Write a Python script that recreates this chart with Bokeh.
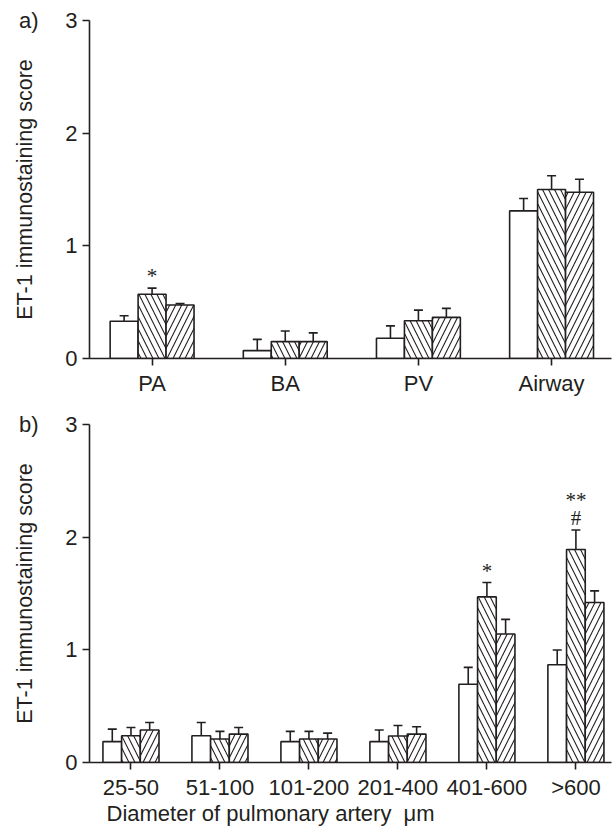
from bokeh.plotting import figure
from bokeh.models import (Range1d, FixedTicker, Whisker, TeeHead,
                          ColumnDataSource, Title, LinearAxis)
from bokeh.layouts import column
from bokeh.core.properties import value
from bokeh.embed import file_html
from bokeh.resources import INLINE

# ---------------- data ----------------
cats_a = ["PA", "BA", "PV", "Airway"]
a_grp1 = [0.33, 0.07, 0.18, 1.31]
a_grp1_err = [0.05, 0.10, 0.11, 0.11]
a_grp2 = [0.57, 0.15, 0.335, 1.50]
a_grp2_err = [0.055, 0.094, 0.094, 0.122]
a_grp3 = [0.475, 0.15, 0.365, 1.476]
a_grp3_err = [0.012, 0.077, 0.08, 0.115]
a_annot_cat = ["PA"]
a_annot_text = ["*"]

cats_b = ["25-50", "51-100", "101-200", "201-400", "401-600", ">600"]
b_grp1 = [0.185, 0.238, 0.185, 0.185, 0.694, 0.868]
b_grp1_err = [0.111, 0.117, 0.091, 0.103, 0.15, 0.13]
b_grp2 = [0.238, 0.208, 0.208, 0.235, 1.47, 1.89]
b_grp2_err = [0.073, 0.068, 0.068, 0.094, 0.127, 0.174]
b_grp3 = [0.288, 0.252, 0.208, 0.252, 1.14, 1.42]
b_grp3_err = [0.067, 0.059, 0.053, 0.065, 0.13, 0.103]
b_annot_cat = ["401-600", ">600", ">600"]
b_annot_text = ["*", "#", "**"]

y_ticks = [0, 1, 2, 3]
y_label = "ET-1 immunostaining score"
x_label_b = "Diameter of pulmonary artery\u00a0\u00a0\u03bcm"

FONT = "Liberation Sans"
SERIF = "Liberation Serif"
INK = "#231f20"
BW = 0.21


def style_axis(ax_):
    ax_.axis_line_color = INK
    ax_.axis_line_width = 1.6
    ax_.major_tick_line_color = INK
    ax_.major_tick_line_width = 1.6
    ax_.major_tick_out = 7
    ax_.major_tick_in = 0
    ax_.minor_tick_out = 0
    ax_.minor_tick_in = 0
    ax_.major_label_text_font = FONT
    ax_.major_label_text_font_size = "22px"
    ax_.major_label_text_color = INK
    ax_.axis_label_text_font = FONT
    ax_.axis_label_text_font_style = "normal"
    ax_.axis_label_text_color = INK


def make_panel(cats, g1, e1, g2, e2, g3, e3, ann_cat, ann_text, tag, height,
               bottom, left_pad, right_pad):
    n = len(cats)
    p = figure(width=612, height=height,
               x_range=Range1d(-left_pad, n - 1 + right_pad),
               y_range=Range1d(0, 3),
               output_backend="svg", toolbar_location=None,
               min_border_left=89, min_border_right=1,
               min_border_top=20, min_border_bottom=bottom)
    p.outline_line_color = None
    p.xgrid.visible = False
    p.ygrid.visible = False
    p.background_fill_color = "white"
    p.border_fill_color = "white"

    xs = list(range(n))
    groups = [(g1, e1, None, -BW), (g2, e2, "\\", 0.0), (g3, e3, "/", BW)]
    for vals, errs, hatch, off in groups:
        src = ColumnDataSource(dict(
            x=[x + off for x in xs],
            top=vals,
            up=[v + e for v, e in zip(vals, errs)],
        ))
        kw = dict(x="x", top="top", bottom=0, width=BW, source=src,
                  fill_color="white", line_color=INK, line_width=1.6)
        if hatch:
            kw.update(hatch_pattern=hatch, hatch_color=INK, hatch_weight=1.1,
                      hatch_scale=12)
        p.vbar(**kw)
        w = Whisker(base="x", lower="top", upper="up", source=src,
                    dimension="height", line_color=INK, line_width=1.6,
                    upper_head=TeeHead(size=9, line_color=INK, line_width=1.6),
                    lower_head=None)
        p.add_layout(w)

    # significance marks over the middle bar of a group
    level = {}
    ax, ay, at, aoff = [], [], [], []
    for c, t in zip(ann_cat, ann_text):
        i = cats.index(c)
        k = level.get(i, 0)
        level[i] = k + 1
        ax.append(i)
        ay.append(g2[i] + e2[i])
        at.append(t)
        aoff.append(0 - 18 * k)
    p.text(x="x", y="y", text="t", y_offset="o",
           source=ColumnDataSource(dict(x=ax, y=ay, t=at, o=aoff)),
           text_align="center", text_baseline="bottom",
           text_font=value(SERIF), text_font_size="21px", text_color=INK)

    # axes
    p.yaxis.ticker = FixedTicker(ticks=y_ticks, minor_ticks=[])
    p.xaxis.ticker = FixedTicker(ticks=xs, minor_ticks=[])
    p.xaxis.major_label_overrides = {i: c for i, c in enumerate(cats)}
    style_axis(p.xaxis[0])
    style_axis(p.yaxis[0])
    p.yaxis.major_label_standoff = 5
    p.xaxis.major_label_standoff = 5

    # outer left axis: carries the panel tag (at the top tick) and the title
    outer = LinearAxis(ticker=FixedTicker(ticks=[y_ticks[-1]], minor_ticks=[]),
                       major_label_overrides={y_ticks[-1]: tag})
    style_axis(outer)
    outer.axis_line_color = None
    outer.major_tick_line_color = None
    outer.major_tick_out = 0
    outer.major_label_standoff = 24
    outer.axis_label = y_label
    outer.axis_label_text_font_size = "21.5px"
    outer.axis_label_standoff = -21
    p.add_layout(outer, "left")
    return p


pa = make_panel(cats_a, a_grp1, a_grp1_err, a_grp2, a_grp2_err, a_grp3,
                a_grp3_err, a_annot_cat, a_annot_text, "a)", 404, 46,
                0.47, 0.45)
pb = make_panel(cats_b, b_grp1, b_grp1_err, b_grp2, b_grp2_err, b_grp3,
                b_grp3_err, b_annot_cat, b_annot_text, "b)", 430, 72,
                0.466, 0.40)

pb.add_layout(Title(text=x_label_b, align="left", offset=17,
                    text_font=FONT, text_font_size="22px",
                    text_font_style="normal", text_color=INK,
                    standoff=-8), "below")

layout = column(pa, pb, spacing=0)
open("out.html", "w").write(file_html(layout, INLINE))
